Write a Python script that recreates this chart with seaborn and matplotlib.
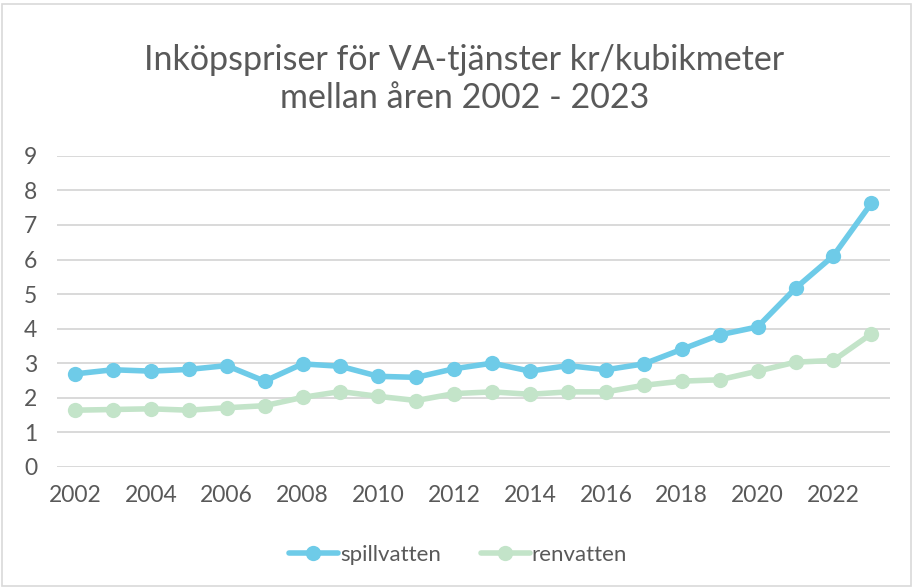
import numpy as np
import pandas as pd
import matplotlib.pyplot as plt
import seaborn as sns
from matplotlib.patches import Rectangle

years = list(range(2002, 2024))
spillvatten = [2.69, 2.81, 2.77, 2.82, 2.93, 2.48, 2.98, 2.91, 2.62, 2.59, 2.84,
               3.00, 2.77, 2.93, 2.81, 2.98, 3.40, 3.82, 4.05, 5.17, 6.11, 7.63]
renvatten = [1.64, 1.66, 1.68, 1.64, 1.71, 1.77, 2.01, 2.18, 2.04, 1.92, 2.12,
             2.17, 2.10, 2.17, 2.17, 2.36, 2.48, 2.52, 2.77, 3.03, 3.08, 3.85]
series_names = ['spillvatten', 'renvatten']
colors = ['#6ECBE8', '#C3E4C9']
title = 'Inköpspriser för VA-tjänster kr/kubikmeter\nmellan åren 2002 - 2023'

df = pd.DataFrame({'year': years * 2,
                   'value': spillvatten + renvatten,
                   'serie': ['spillvatten'] * len(years) + ['renvatten'] * len(years)})

sns.set_style('white')
plt.rcParams['font.family'] = ['Lato', 'DejaVu Sans']
text_color = '#595959'

fig = plt.figure(figsize=(9.16, 5.88), dpi=100)
ax = fig.add_axes([0.062, 0.206, 0.910, 0.529])

sns.lineplot(data=df, x='year', y='value', hue='serie', hue_order=series_names,
             palette=colors, marker='o', markersize=11, markeredgewidth=0,
             linewidth=4, ax=ax, zorder=3)

ax.set_xlim(2001.52, 2023.5)
ax.set_ylim(0, 9)
ax.set_yticks(range(0, 10))
ax.set_xticks(range(2002, 2023, 2))
ax.yaxis.grid(True, color='#D9D9D9', linewidth=1.4, zorder=0)
ax.xaxis.grid(False)
for s in ax.spines.values():
    s.set_visible(False)
ax.tick_params(axis='x', colors=text_color, labelsize=16.5, length=0, pad=13)
ax.tick_params(axis='y', colors=text_color, labelsize=16.5, length=0, pad=14)
ax.set_xlabel('')
ax.set_ylabel('')

fig.text(0.507, 0.866, title, ha='center', va='center', fontsize=24.5,
         color=text_color, linespacing=1.25)

handles, labels = ax.get_legend_handles_labels()
ax.legend(handles, labels, loc='center', bbox_to_anchor=(0.5, 0.056),
          bbox_transform=fig.transFigure, ncol=2, frameon=False,
          fontsize=16, labelcolor=text_color, handlelength=2.2,
          handletextpad=0.1, columnspacing=1.8)

fig.patches.append(Rectangle((0.002, 0.004), 0.992, 0.99, transform=fig.transFigure,
                             fill=False, edgecolor='#D9D9D9', linewidth=1.2))

fig.savefig('out.png', dpi=100, facecolor='white')
